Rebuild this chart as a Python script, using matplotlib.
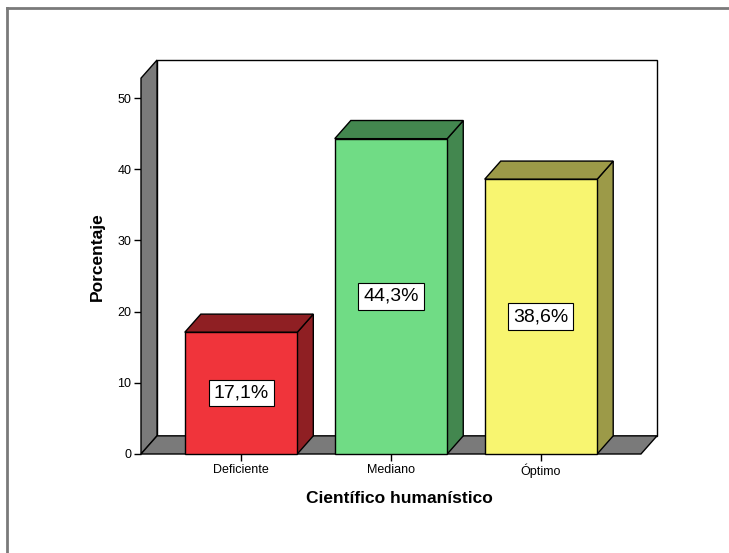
import matplotlib
matplotlib.use("Agg")
import matplotlib.pyplot as plt
from matplotlib.patches import Polygon, Rectangle
from matplotlib.lines import Line2D

plt.rcParams['font.family'] = ['Liberation Sans', 'DejaVu Sans']

# data
categories = ["Deficiente", "Mediano", "Óptimo"]
values = [17.1, 44.3, 38.6]
labels = ["17,1%", "44,3%", "38,6%"]
front_colors = ["#f0343b", "#70dc85", "#f8f570"]
shade_colors = ["#8f1f23", "#43874f", "#9c9a48"]

# 3d look
dx = 0.107   # depth in x data units
dy = 2.55    # depth in y data units
bar_w = 0.75
x_lo, x_hi = -0.667, 2.667
wall_top = 52.8

fig = plt.figure(figsize=(7.29, 5.53), dpi=100)
W, H = 729, 553
ax = fig.add_axes([141 / W, (H - 454) / H, (657 - 141) / W, (454 - 60) / H])
ax.set_xlim(x_lo, x_hi + dx)
ax.set_ylim(0, wall_top + dy)
for s in ax.spines.values():
    s.set_visible(False)
ax.patch.set_alpha(0)

edge = dict(edgecolor="black", linewidth=1.0, joinstyle="miter")

# back wall
ax.add_patch(Rectangle((x_lo + dx, dy), x_hi - x_lo, wall_top,
                       facecolor="white", clip_on=False, zorder=1, **edge))
# left wall
ax.add_patch(Polygon([(x_lo, 0), (x_lo, wall_top), (x_lo + dx, wall_top + dy), (x_lo + dx, dy)],
                     facecolor="#7a7a7a", clip_on=False, zorder=2, **edge))
# floor
ax.add_patch(Polygon([(x_lo, 0), (x_hi, 0), (x_hi + dx, dy), (x_lo + dx, dy)],
                     facecolor="#7a7a7a", clip_on=False, zorder=2, **edge))

# bars
for i, v in enumerate(values):
    l, r = i - bar_w / 2, i + bar_w / 2
    ax.add_patch(Polygon([(r, 0), (r + dx, dy), (r + dx, v + dy), (r, v)],
                         facecolor=shade_colors[i], clip_on=False, zorder=3, **edge))
    ax.add_patch(Polygon([(l, v), (r, v), (r + dx, v + dy), (l + dx, v + dy)],
                         facecolor=shade_colors[i], clip_on=False, zorder=3, **edge))
    ax.add_patch(Rectangle((l, 0), bar_w, v, facecolor=front_colors[i],
                           clip_on=False, zorder=4, **edge))
    ax.text(i, v / 2, labels[i], ha="center", va="center", fontsize=14, zorder=5,
            bbox=dict(boxstyle="square,pad=0.25", facecolor="white",
                      edgecolor="black", linewidth=0.8))

ax.set_yticks([0, 10, 20, 30, 40, 50])
ax.set_xticks(range(len(categories)))
ax.set_xticklabels(categories)
ax.tick_params(axis="y", length=5, width=1, pad=2, labelsize=9, direction="out")
ax.tick_params(axis="x", length=5, width=1, pad=2, labelsize=9, direction="out")

ax.set_ylabel("Porcentaje", fontsize=12.5, fontweight="bold", labelpad=9)
ax.set_xlabel("Científico humanístico", fontsize=12.5, fontweight="bold", labelpad=9)

# outer frame lines
fig.add_artist(Line2D([7 / W, 1], [1 - 8 / H, 1 - 8 / H], color="#7a7a7a", linewidth=2))
fig.add_artist(Line2D([7 / W, 7 / W], [0, 1 - 8 / H], color="#7a7a7a", linewidth=2))

fig.savefig("out.png", dpi=100)
